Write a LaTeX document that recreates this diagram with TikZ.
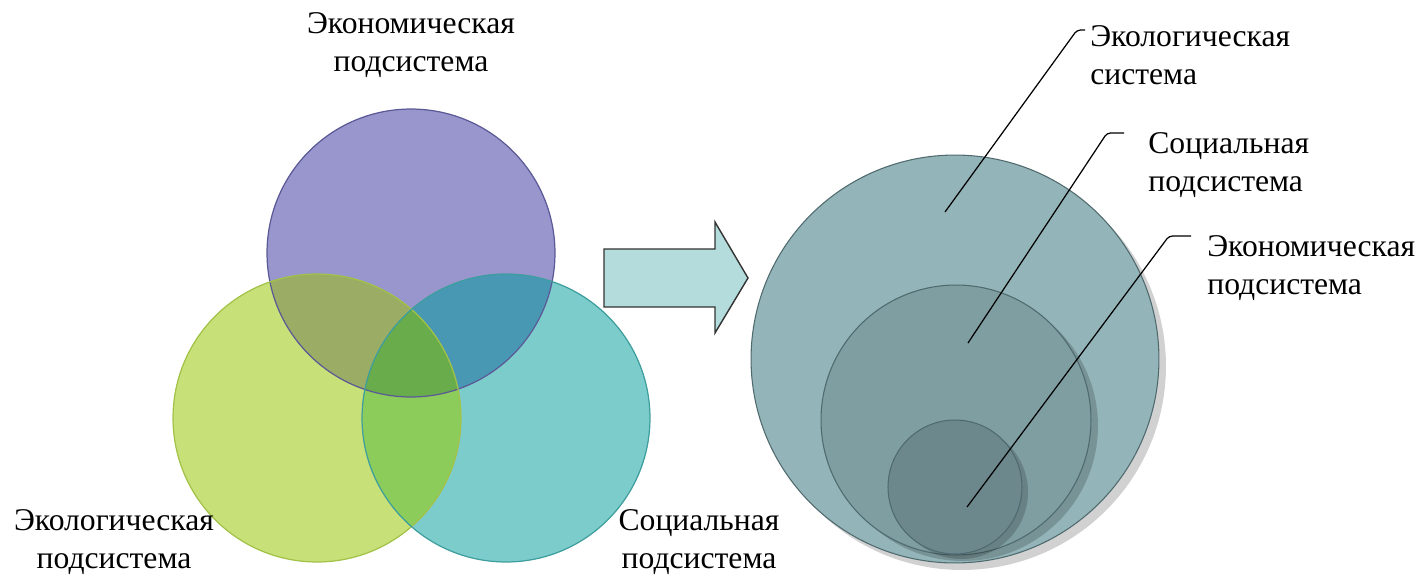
\documentclass[tikz,border=0pt]{standalone}
\usepackage{fontspec}
\setmainfont{Liberation Serif}
\usepackage{tikz}
\usetikzlibrary{positioning,calc}
\definecolor{econFill}{HTML}{9896CC}
\definecolor{ecolFill}{HTML}{C8E078}
\definecolor{socFill}{HTML}{7DCCCC}
\definecolor{econEcol}{HTML}{9BAC64}
\definecolor{econSoc}{HTML}{4898B4}
\definecolor{ecolSoc}{HTML}{8CCC5A}
\definecolor{allThree}{HTML}{69AC4B}
\definecolor{econLine}{HTML}{5C5A96}
\definecolor{ecolLine}{HTML}{A2C248}
\definecolor{socLine}{HTML}{3E9E9E}
\definecolor{arrowFill}{HTML}{B5DCDC}
\definecolor{bigFill}{HTML}{93B4B8}
\definecolor{midFill}{HTML}{7F9EA2}
\definecolor{smallFill}{HTML}{6C888C}
\definecolor{ringLine}{HTML}{4F6A6E}
\tikzset{lbl/.style={font=\fontsize{18}{21.6}\selectfont,inner sep=0pt,align=left},
    ring/.style={draw=ringLine,line width=0.6pt},
    ring shadow/.style={fill=black,opacity=0.18},
    leader/.style={draw,line width=0.7pt,rounded corners=2pt}}

\begin{document}
\begin{tikzpicture}[x=0.02cm,y=-0.02cm]
\useasboundingbox (0,0) rectangle (1418,576);
\def\vr{2.88cm}

% Centres of the three subsystems
\coordinate (econC) at (411,253);
\coordinate (ecolC) at (317,418);
\coordinate (socC) at (506,418);

% Fill the circles one by one
\fill[econFill] (econC) circle[radius=\vr];
\fill[ecolFill] (ecolC) circle[radius=\vr];
\fill[socFill] (socC) circle[radius=\vr];

% Shade the pairwise intersections
\begin{scope}
  \clip (econC) circle[radius=\vr];
  \fill[econEcol] (ecolC) circle[radius=\vr];
  \fill[econSoc] (socC) circle[radius=\vr];
\end{scope}
\begin{scope}
  \clip (ecolC) circle[radius=\vr];
  \fill[ecolSoc] (socC) circle[radius=\vr];
\end{scope}

% Shade the common part
\begin{scope}
  \clip (econC) circle[radius=\vr];
  \clip (ecolC) circle[radius=\vr];
  \fill[allThree] (socC) circle[radius=\vr];
\end{scope}

% Outlines on top
\draw[econLine, line width=0.7pt] (econC) circle[radius=\vr];
\draw[ecolLine, line width=0.7pt] (ecolC) circle[radius=\vr];
\draw[socLine, line width=0.7pt] (socC) circle[radius=\vr];

% Label the subsystems
\node[lbl, align=center, anchor=north] (econLbl) at (411,12) {Экономическая\\подсистема};
\node[lbl, align=center, anchor=north] (ecolLbl) at (114,509) {Экологическая\\подсистема};
\node[lbl, align=center, anchor=north] (socLbl) at (699,509) {Социальная\\подсистема};

% Block arrow
\filldraw[arrowFill, draw=black!80, line width=0.8pt] (604,249) -- (715,249) -- (715,222) -- (748,278)
    -- (715,333) -- (715,307) -- (604,307) -- cycle;

% Nested circles with their shadows
\coordinate (bigC) at (955,359);
\coordinate (midC) at (956,420);
\coordinate (smallC) at (955,487);
\fill[ring shadow] ($(bigC)+(7,7)$) circle[radius=4.08cm];
\filldraw[bigFill, ring] (bigC) circle[radius=4.08cm];
\fill[ring shadow] ($(midC)+(7,6)$) circle[radius=2.70cm];
\filldraw[midFill, ring] (midC) circle[radius=2.70cm];
\fill[ring shadow] ($(smallC)+(6,5)$) circle[radius=1.34cm];
\filldraw[smallFill, ring] (smallC) circle[radius=1.34cm];

% Labels of the nested systems
\node[lbl, anchor=north west] (ecoSysLbl) at (1090,25) {Экологическая\\система};
\node[lbl, anchor=north west] (socSubLbl) at (1148,132) {Социальная\\подсистема};
\node[lbl, anchor=north west] (econSubLbl) at (1207,235) {Экономическая\\подсистема};

% Leader lines
\coordinate (ecoPt) at (945,212);
\coordinate (ecoBend) at (1077,30);
\coordinate (ecoTip) at (1085,30);
\coordinate (socPt) at (968,343);
\coordinate (socBend) at (1107,133);
\coordinate (socTip) at (1124,133);
\coordinate (econPt) at (967,507);
\coordinate (econBend) at (1169,236);
\coordinate (econTip) at (1191,236);
\draw[leader] (ecoPt) -- (ecoBend) -- (ecoTip);
\draw[leader] (socPt) -- (socBend) -- (socTip);
\draw[leader] (econPt) -- (econBend) -- (econTip);
\end{tikzpicture}
\end{document}
